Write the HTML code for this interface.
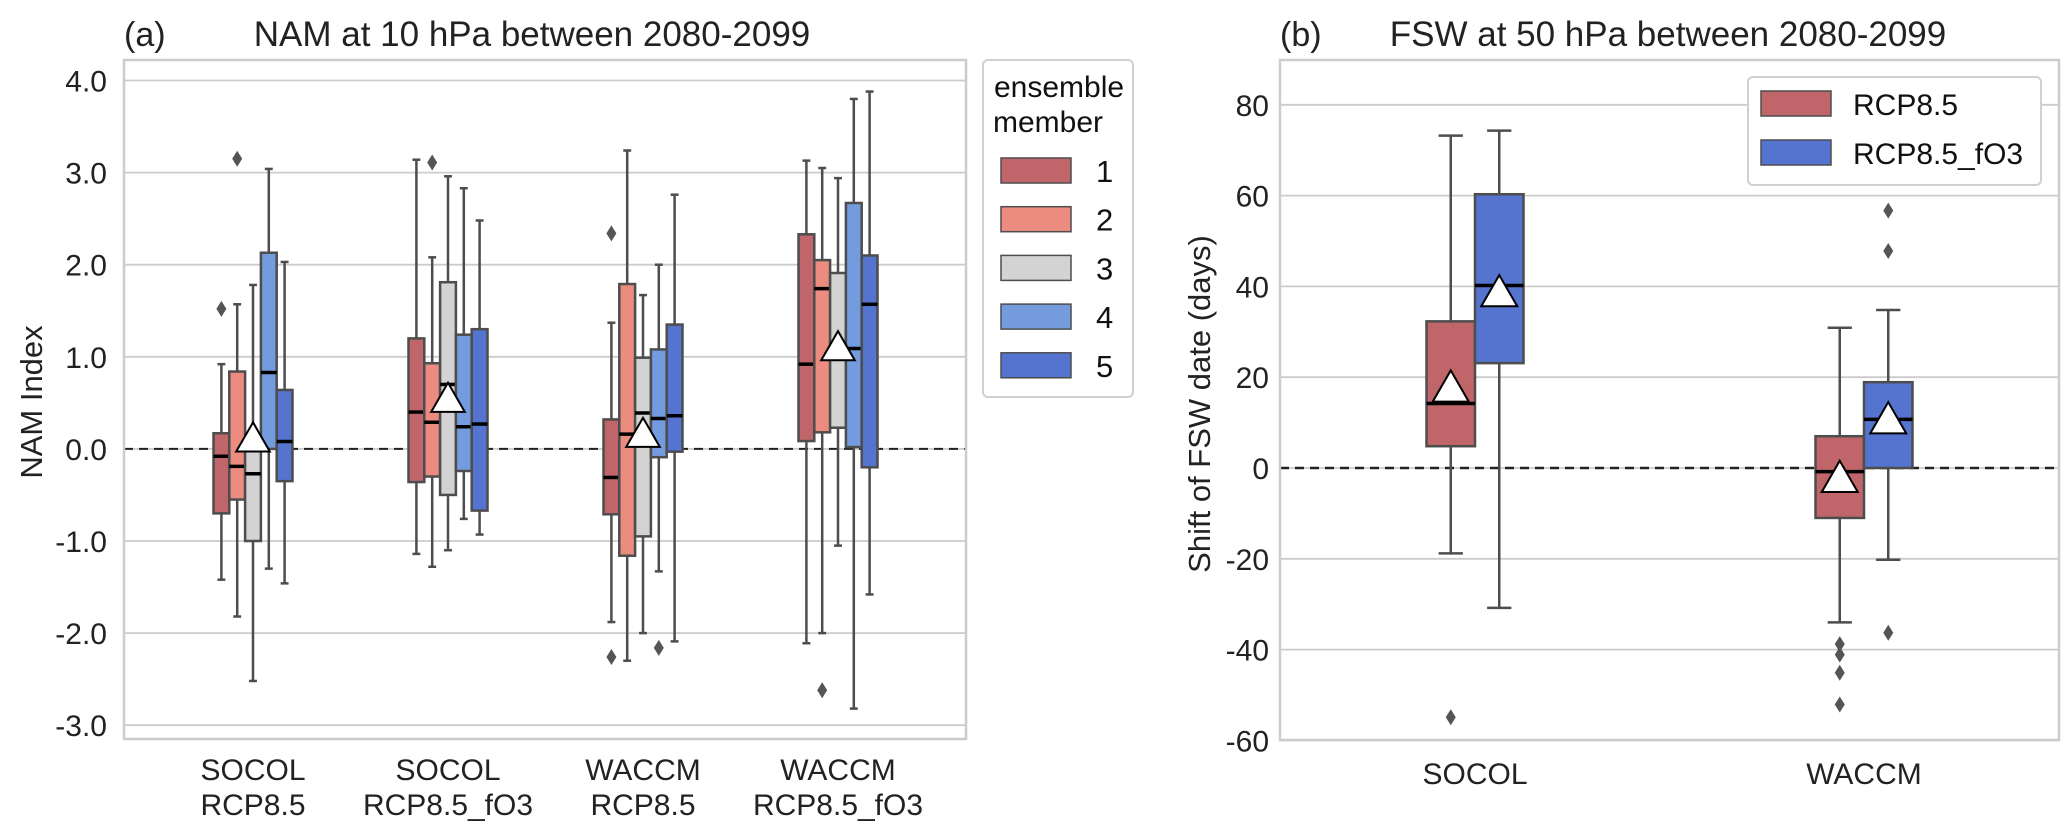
<!DOCTYPE html>
<html><head><meta charset="utf-8"><style>
html,body{margin:0;padding:0;background:#fff;}
svg{display:block;font-family:"Liberation Sans","DejaVu Sans",sans-serif;}
</style></head><body>
<svg id="fig" width="2067" height="830" viewBox="0 0 2067 830" xmlns="http://www.w3.org/2000/svg">
<g id="pa"></g>
<g id="pb"></g>
</svg>
<script>
// ---- Panel (a) data ----
const aCategories = ["SOCOL|RCP8.5","SOCOL|RCP8.5_fO3","WACCM|RCP8.5","WACCM|RCP8.5_fO3"];
const aMembers = ["1","2","3","4","5"];
const aTicks = [4,3,2,1,0,-1,-2,-3];
const aTickLabels = ["4.0","3.0","2.0","1.0","0.0","-1.0","-2.0","-3.0"];
// [whiskerLow, q1, median, q3, whiskerHigh] per group, per member
const aStats = [
 [[-1.42,-0.70,-0.08,0.17,0.92],[-1.82,-0.55,-0.19,0.84,1.57],[-2.52,-1.00,-0.27,0.00,1.78],[-1.30,0.00,0.83,2.13,3.04],[-1.46,-0.35,0.08,0.64,2.03]],
 [[-1.14,-0.36,0.40,1.20,3.14],[-1.28,-0.30,0.29,0.93,2.08],[-1.10,-0.50,0.70,1.81,2.96],[-0.76,-0.24,0.24,1.24,2.83],[-0.93,-0.67,0.27,1.30,2.48]],
 [[-1.88,-0.71,-0.31,0.32,1.37],[-2.30,-1.16,0.16,1.79,3.24],[-2.00,-0.95,0.39,0.99,1.67],[-1.33,-0.09,0.33,1.08,2.00],[-2.09,-0.03,0.36,1.35,2.76]],
 [[-2.11,0.085,0.92,2.33,3.13],[-2.00,0.18,1.74,2.05,3.05],[-1.05,0.23,1.00,1.91,2.94],[-2.82,0.02,1.09,2.67,3.80],[-1.58,-0.20,1.57,2.10,3.88]]
];
const aOutliers = [
 [[1.52],[3.15],[],[],[]],
 [[],[3.11],[],[],[]],
 [[2.34,-2.26],[],[],[-2.16],[]],
 [[],[-2.62],[],[],[]]
];
const aMeans = [0.10,0.53,0.15,1.09];
// ---- Panel (b) data ----
const bCategories = ["SOCOL","WACCM"];
const bSeries = ["RCP8.5","RCP8.5_fO3"];
const bTicks = [80,60,40,20,0,-20,-40,-60];
const bStats = [
 [[-18.8,4.8,14.2,32.3,73.2],[-30.8,23.1,40.2,60.3,74.3]],
 [[-34.0,-11.0,-0.8,7.0,30.9],[-20.2,0.0,10.7,18.9,34.8]]
];
const bOutliers = [
 [[-54.9],[]],
 [[-38.8,-41.1,-45.1,-52.1],[56.7,47.8,-36.3]]
];
const bMeans = [[17.4,38.4],[-2.5,10.4]];

const NS="http://www.w3.org/2000/svg";
function mk(parent,tag,attrs,text){const e=document.createElementNS(NS,tag);for(const k in attrs)e.setAttribute(k,attrs[k]);if(text!==undefined)e.textContent=text;parent.appendChild(e);return e;}
const aColors=["#c0666a","#ec8c81","#d3d3d3","#739bdd","#5574cf"];
const bColors=["#c0666a","#5574cf"];
const EDGE="#4d4d4d";

const aY=v=>80.5+(4-v)*92.1;
const aX=(g,m)=>253+195*g+(m-2)*15.8;
const bY=v=>468-v*4.54;
const bX=(g,s)=>1475+389*g+(s-0.5)*48.5;

function drawBox(g,cx,w,st,ys,col,name){
  const grp=mk(g,'g',{});
  
  
  const [lo,q1,md,q3,hi]=st;
  const cw=w*0.5;
  mk(grp,'line',{x1:cx,x2:cx,y1:ys(q3),y2:ys(hi),stroke:EDGE,'stroke-width':2.5});
  mk(grp,'line',{x1:cx,x2:cx,y1:ys(q1),y2:ys(lo),stroke:EDGE,'stroke-width':2.5});
  mk(grp,'line',{x1:cx-cw/2,x2:cx+cw/2,y1:ys(hi),y2:ys(hi),stroke:EDGE,'stroke-width':2.5});
  mk(grp,'line',{x1:cx-cw/2,x2:cx+cw/2,y1:ys(lo),y2:ys(lo),stroke:EDGE,'stroke-width':2.5});
  mk(grp,'rect',{x:cx-w/2,y:ys(q3),width:w,height:ys(q1)-ys(q3),fill:col,stroke:EDGE,'stroke-width':2.5});
  mk(grp,'line',{x1:cx-w/2,x2:cx+w/2,y1:ys(md),y2:ys(md),stroke:'#000','stroke-width':3.5});
}
function diamond(g,cx,cy,name){
  const d=mk(g,'path',{d:`M${cx} ${cy-8}L${cx+5} ${cy}L${cx} ${cy+8}L${cx-5} ${cy}Z`,fill:'#555'});
  
  
}
function tri(g,cx,cy,s,name){
  const t=mk(g,'path',{d:`M${cx} ${cy-s*0.62}L${cx+s*0.6} ${cy+s*0.42}L${cx-s*0.6} ${cy+s*0.42}Z`,fill:'#fff',stroke:'#000','stroke-width':2});
  
  
}

// ---------- Panel A ----------
const pa=document.getElementById('pa');
aTicks.forEach((t,i)=>{
  const l=mk(pa,'line',{x1:124,x2:966,y1:aY(t),y2:aY(t),stroke:'#cccccc','stroke-width':1.8});
  
  
  const tx=mk(pa,'text',{x:107,y:aY(t)+11,'text-anchor':'end','font-size':30,fill:'#222'},aTickLabels[i]);
  
  
});
const za=mk(pa,'line',{x1:124,x2:966,y1:aY(0),y2:aY(0),stroke:'#222','stroke-width':2,'stroke-dasharray':'9,6'});


aStats.forEach((grp,gi)=>{
  grp.forEach((st,mi)=>{
    drawBox(pa,aX(gi,mi),15.8,st,aY,aColors[mi],'box-group'+(gi+1)+'-member'+(mi+1));
    aOutliers[gi][mi].forEach(v=>diamond(pa,aX(gi,mi),aY(v),'outlier'));
  });
  tri(pa,aX(gi,2),aY(aMeans[gi]),28,'mean-marker');
  const [l1,l2]=aCategories[gi].split('|');
  const t1=mk(pa,'text',{x:253+195*gi,y:780,'text-anchor':'middle','font-size':30,fill:'#222'},l1);
  
  
  const t2=mk(pa,'text',{x:253+195*gi,y:815,'text-anchor':'middle','font-size':30,fill:'#222'},l2);
  
  
});
const fa=mk(pa,'rect',{x:124,y:60,width:842,height:679,fill:'none',stroke:'#cccccc','stroke-width':2.5});


const yla=mk(pa,'text',{x:0,y:0,transform:'translate(42,402) rotate(-90)','text-anchor':'middle','font-size':31,fill:'#222'},'NAM Index');


const pla=mk(pa,'text',{x:124,y:46,'font-size':34,fill:'#222'},'(a)');


const tia=mk(pa,'text',{x:532,y:46,'text-anchor':'middle','font-size':35,fill:'#222'},'NAM at 10 hPa between 2080-2099');


const lga=mk(pa,'g',{});


mk(lga,'rect',{x:983,y:60,width:150,height:337,rx:5,fill:'#fff',stroke:'#d0d0d0','stroke-width':2});
mk(lga,'text',{x:994,y:97,'font-size':30,fill:'#111'},'ensemble');
mk(lga,'text',{x:993,y:132,'font-size':30,fill:'#111'},'member');
aMembers.forEach((m,i)=>{
  const e=mk(lga,'g',{});
  
  
  mk(e,'rect',{x:1001,y:158+48.7*i,width:70,height:25,fill:aColors[i],stroke:EDGE,'stroke-width':1.5});
  mk(e,'text',{x:1096,y:182+48.7*i,'font-size':31,fill:'#111'},m);
});

// ---------- Panel B ----------
const pb=document.getElementById('pb');
bTicks.forEach(t=>{
  const l=mk(pb,'line',{x1:1280,x2:2059,y1:bY(t),y2:bY(t),stroke:'#cccccc','stroke-width':1.8});
  
  
  const tx=mk(pb,'text',{x:1269,y:bY(t)+11,'text-anchor':'end','font-size':30,fill:'#222'},String(t));
  
  
});
const zb=mk(pb,'line',{x1:1280,x2:2059,y1:bY(0),y2:bY(0),stroke:'#222','stroke-width':2.5,'stroke-dasharray':'9,6'});


bStats.forEach((grp,gi)=>{
  grp.forEach((st,si)=>{
    drawBox(pb,bX(gi,si),48.5,st,bY,bColors[si],'box-'+bCategories[gi].toLowerCase()+'-'+(si?'fo3':'rcp85'));
    bOutliers[gi][si].forEach(v=>diamond(pb,bX(gi,si),bY(v),'outlier'));
    tri(pb,bX(gi,si),bY(bMeans[gi][si]),30,'mean-marker');
  });
  const t=mk(pb,'text',{x:1475+389*gi,y:784,'text-anchor':'middle','font-size':30,fill:'#222'},bCategories[gi]);
  
  
});
const fb=mk(pb,'rect',{x:1280,y:60,width:779,height:680,fill:'none',stroke:'#cccccc','stroke-width':2.5});


const ylb=mk(pb,'text',{x:0,y:0,transform:'translate(1210,404) rotate(-90)','text-anchor':'middle','font-size':31,fill:'#222'},'Shift of FSW date (days)');


const plb=mk(pb,'text',{x:1280,y:46,'font-size':34,fill:'#222'},'(b)');


const tib=mk(pb,'text',{x:1668,y:46,'text-anchor':'middle','font-size':35,fill:'#222'},'FSW at 50 hPa between 2080-2099');


const lgb=mk(pb,'g',{});


mk(lgb,'rect',{x:1748,y:77,width:293,height:108,rx:5,fill:'#fff',stroke:'#d0d0d0','stroke-width':2});
bSeries.forEach((s,i)=>{
  const e=mk(lgb,'g',{});
  
  
  mk(e,'rect',{x:1761,y:91+49*i,width:70,height:25,fill:bColors[i],stroke:EDGE,'stroke-width':1.5});
  mk(e,'text',{x:1853,y:115+49*i,'font-size':30,fill:'#111'},s);
});
</script>
</body></html>
